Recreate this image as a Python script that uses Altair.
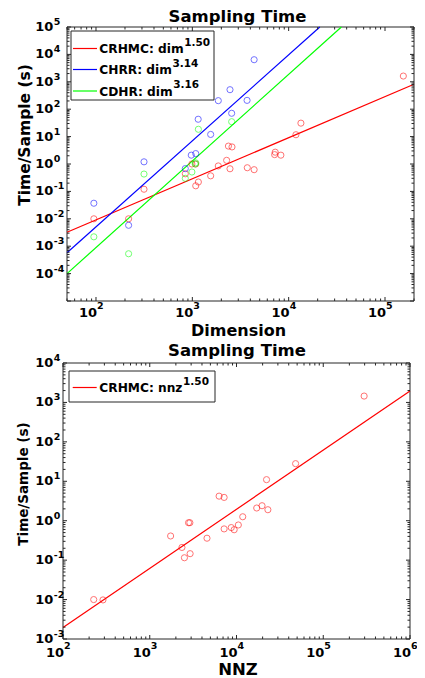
import math
import altair as alt
import pandas as pd

# ---------------- data ----------------
# Top panel: problem dimension vs time per sample (s)
crhmc_dim = [95, 218, 315, 845, 990, 1085, 1085, 1155, 1550, 1860, 2270, 2370,
             2460, 2580, 3720, 4380, 7150, 7250, 8300, 11900, 13400, 155000]
crhmc_time = [0.010, 0.010, 0.12, 0.44, 1.0, 1.0, 0.16, 0.22, 0.37, 0.85, 1.36, 4.5,
              0.67, 4.2, 0.73, 0.62, 2.2, 2.7, 2.1, 11.7, 31, 1620]
chrr_dim = [95, 218, 315, 845, 975, 1085, 1150, 1550, 1860, 2460, 2560, 3700, 4380]
chrr_time = [0.037, 0.0058, 1.2, 0.68, 2.1, 2.4, 43, 12, 205, 515, 71, 210, 6400]
cdhr_dim = [95, 218, 315, 845, 990, 1070, 1085, 1155, 2560]
cdhr_time = [0.0022, 0.00053, 0.43, 0.30, 0.51, 1.0, 1.1, 18.5, 35]

# fitted power laws: time = 10**log_coef * x**exponent
fit_names = ["CRHMC", "CHRR", "CDHR"]
fit_exponents = [1.50, 3.14, 3.16]
fit_log_coefs = [-5.04, -8.575, -9.369]
fit_colors = ["#ff0000", "#0000ff", "#00ff00"]

# Bottom panel: number of non-zeros vs time per sample (s)
nnz = [226, 289, 1740, 2350, 2510, 2800, 2900, 2920, 4570, 6300, 7200, 7200,
       8700, 9400, 10500, 11800, 17100, 19700, 22200, 23000, 48000, 296000]
nnz_time = [0.010, 0.0098, 0.41, 0.21, 0.115, 0.89, 0.89, 0.146, 0.36, 4.2, 3.9, 0.62,
            0.67, 0.59, 0.78, 1.26, 2.1, 2.4, 11, 1.9, 28, 1450]
nnz_fit_exponent = 1.50
nnz_fit_log_coef = -5.71

# axis ranges and labelled decades
top_x_domain = [50, 2e5]
top_y_domain = [1e-5, 1e5]
bot_x_domain = [100, 1e6]
bot_y_domain = [1e-3, 1e4]
top_x_exps = [2, 3, 4, 5]
top_y_exps = [-4, -3, -2, -1, 0, 1, 2, 3, 4, 5]
bot_x_exps = [2, 3, 4, 5, 6]
bot_y_exps = [-3, -2, -1, 0, 1, 2, 3, 4]

# ---------------- styling ----------------
FONT = "DejaVu Sans"
AX = "#262626"
W, H = 409, 670

# approximate advance widths (em) of DejaVu Sans Bold
_ADV = {"C": .734, "R": .770, "H": .837, "M": .995, "D": .830, ":": .400, " ": .348,
        "d": .716, "i": .343, "m": 1.042, "n": .712, "z": .583, ".": .380, "-": .418}


def text_width(s, size):
    return sum(_ADV.get(ch, .696) for ch in s) * size


def logscale(dom, rng):
    return alt.Scale(type="log", domain=dom, range=rng, nice=False)


def one(**kw):
    return pd.DataFrame([kw])


def tick_values(dom):
    lo, hi = dom
    out = []
    for e in range(math.floor(math.log10(lo)), math.ceil(math.log10(hi)) + 1):
        for m in range(1, 10):
            v = m * 10.0 ** e
            if lo * (1 - 1e-9) <= v <= hi * (1 + 1e-9):
                out.append((v, m == 1))
    return out


def fit_line(xdom, ydom, p, logc):
    lo, hi = xdom
    x_top = 10 ** ((math.log10(ydom[1]) - logc) / p)
    x_bot = 10 ** ((math.log10(ydom[0]) - logc) / p)
    x0, x1 = max(lo, x_bot), min(hi, x_top)
    return pd.DataFrame({"x": [x0, x1],
                         "y": [10 ** logc * x0 ** p, 10 ** logc * x1 ** p]})


def panel(xdom, xrng, ydom, yrng, series, fits, xexps, yexps,
          xlab_y, xexp_y, ylab_x):
    xs = logscale(xdom, xrng)
    ys = logscale(ydom, yrng)
    left, right = xrng
    bottom, top = yrng
    layers = []
    # plot frame
    layers.append(alt.Chart(one(a=0)).mark_rect(fillOpacity=0, stroke=AX, strokeWidth=1).encode(
        x=alt.value(left), x2=alt.value(right), y=alt.value(top), y2=alt.value(bottom)))
    # fitted lines
    for (p, logc, col) in fits:
        layers.append(alt.Chart(fit_line(xdom, ydom, p, logc)).mark_line(
            color=col, strokeWidth=1.2).encode(
            x=alt.X("x:Q", scale=xs, axis=None), y=alt.Y("y:Q", scale=ys, axis=None)))
    # data points
    for (xv, yv, col) in series:
        layers.append(alt.Chart(pd.DataFrame({"x": xv, "y": yv})).mark_point(
            shape="circle", filled=False, size=38, strokeWidth=1, opacity=0.55, color=col).encode(
            x=alt.X("x:Q", scale=xs, axis=None), y=alt.Y("y:Q", scale=ys, axis=None)))
    # inward ticks on all four sides
    xt = []
    for v, major in tick_values(xdom):
        ln = 4 if major else 2.5
        xt.append({"v": v, "p1": bottom, "p2": bottom - ln})
        xt.append({"v": v, "p1": top, "p2": top + ln})
    layers.append(alt.Chart(pd.DataFrame(xt)).mark_rule(color=AX, strokeWidth=1).encode(
        x=alt.X("v:Q", scale=xs, axis=None),
        y=alt.Y("p1:Q", scale=None, axis=None), y2="p2:Q"))
    yt = []
    for v, major in tick_values(ydom):
        ln = 4 if major else 2.5
        yt.append({"v": v, "p1": left, "p2": left + ln})
        yt.append({"v": v, "p1": right, "p2": right - ln})
    layers.append(alt.Chart(pd.DataFrame(yt)).mark_rule(color=AX, strokeWidth=1).encode(
        y=alt.Y("v:Q", scale=ys, axis=None),
        x=alt.X("p1:Q", scale=None, axis=None), x2="p2:Q"))
    # tick labels 10^e
    xl = pd.DataFrame({"v": [10.0 ** e for e in xexps], "e": [str(e) for e in xexps]})
    layers.append(alt.Chart(xl).mark_text(text="10", font=FONT, fontWeight="bold", fontSize=13,
                                          align="right", baseline="middle", dx=1, color="black").encode(
        x=alt.X("v:Q", scale=xs, axis=None), y=alt.value(xlab_y)))
    layers.append(alt.Chart(xl).mark_text(font=FONT, fontWeight="bold", fontSize=9.5,
                                          align="left", baseline="middle", dx=1, color="black").encode(
        x=alt.X("v:Q", scale=xs, axis=None), y=alt.value(xexp_y), text="e:N"))
    yl = pd.DataFrame({"v": [10.0 ** e for e in yexps], "e": [str(e) for e in yexps]})
    layers.append(alt.Chart(yl).mark_text(text="10", font=FONT, fontWeight="bold", fontSize=13,
                                          align="right", baseline="middle", color="black").encode(
        y=alt.Y("v:Q", scale=ys, axis=None), x=alt.value(ylab_x)))
    layers.append(alt.Chart(yl).mark_text(font=FONT, fontWeight="bold", fontSize=9.5,
                                          align="left", baseline="middle", dy=-5, color="black").encode(
        y=alt.Y("v:Q", scale=ys, axis=None), x=alt.value(ylab_x + 0.5), text="e:N"))
    return layers


def legend(box, entries, line_x, text_x, main_size=12.2, sup_size=10.5):
    x0, x1, y0, y1 = box
    layers = [alt.Chart(one(a=0)).mark_rect(fill="white", stroke=AX, strokeWidth=1).encode(
        x=alt.value(x0), x2=alt.value(x1), y=alt.value(y0), y2=alt.value(y1))]
    for (main, sup, col, yc) in entries:
        layers.append(alt.Chart(one(a=0)).mark_rule(color=col, strokeWidth=1.2).encode(
            x=alt.value(line_x[0]), x2=alt.value(line_x[1]), y=alt.value(yc)))
        layers.append(alt.Chart(one(t=main)).mark_text(
            font=FONT, fontWeight="bold", fontSize=main_size, align="left",
            baseline="middle", color="black").encode(
            x=alt.value(text_x), y=alt.value(yc + 0.5), text="t:N"))
        layers.append(alt.Chart(one(t=sup)).mark_text(
            font=FONT, fontWeight="bold", fontSize=sup_size, align="left",
            baseline="middle", color="black").encode(
            x=alt.value(text_x + text_width(main, main_size) + 0.5), y=alt.value(yc - 6), text="t:N"))
    return layers


def label(t, x, y, size, angle=0):
    return alt.Chart(one(t=t)).mark_text(
        font=FONT, fontWeight="bold", fontSize=size, align="center",
        baseline="alphabetic" if angle == 0 else "middle", angle=angle, color="black").encode(
        x=alt.value(x), y=alt.value(y), text="t:N")


layers = []
# ---- top panel ----
layers += panel(top_x_domain, [59, 406], top_y_domain, [293, 19],
                [(crhmc_dim, crhmc_time, fit_colors[0]),
                 (chrr_dim, chrr_time, fit_colors[1]),
                 (cdhr_dim, cdhr_time, fit_colors[2])],
                list(zip(fit_exponents, fit_log_coefs, fit_colors)),
                top_x_exps, top_y_exps, xlab_y=304.5, xexp_y=298, ylab_x=45.3)
layers += legend((63, 206, 23, 92),
                 [(f"{n}: dim", f"{p:.2f}", c, yc)
                  for n, p, c, yc in zip(fit_names, fit_exponents, fit_colors, [40.5, 61.5, 83])],
                 line_x=(65, 89), text_x=91.3)
layers.append(label("Sampling Time", 229.5, 13.5, 16.5))
layers.append(label("Dimension", 230.5, 328, 16))
layers.append(label("Time/Sample (s)", 17, 127, 15.5, angle=270))

# ---- bottom panel ----
layers += panel(bot_x_domain, [55, 402], bot_y_domain, [631, 355],
                [(nnz, nnz_time, fit_colors[0])],
                [(nnz_fit_exponent, nnz_fit_log_coef, fit_colors[0])],
                bot_x_exps, bot_y_exps, xlab_y=645, xexp_y=638, ylab_x=45.3)
layers += legend((61, 207, 363, 394),
                 [("CRHMC: nnz", f"{nnz_fit_exponent:.2f}", fit_colors[0], 379.5)],
                 line_x=(64.7, 88.7), text_x=91.3)
layers.append(label("Sampling Time", 229, 347.5, 16.5))
layers.append(label("NNZ", 230, 667, 16.5))
layers.append(label("Time/Sample (s)", 16, 476, 13.5, angle=270))

chart = alt.layer(*layers).resolve_scale(x="independent", y="independent").properties(
    width=W, height=H, padding=0, autosize=alt.AutoSizeParams(type="none"),
    background="white").configure_view(stroke=None)

chart.save("out.html", embed_options={"renderer": "svg", "actions": False})
